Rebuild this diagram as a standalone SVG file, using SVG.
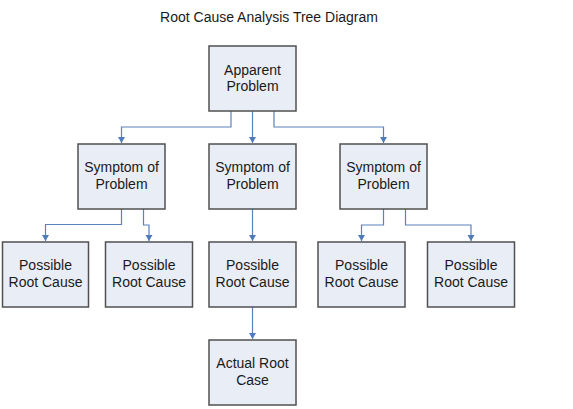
<svg xmlns="http://www.w3.org/2000/svg" width="573" height="409" viewBox="0 0 573 409">
<defs>
<marker id="ah" markerWidth="8" markerHeight="7" refX="4" refY="6" orient="0" markerUnits="userSpaceOnUse" viewBox="0 0 8 7">
<path d="M0.5,0 L7.5,0 L4,6 Z" fill="#4F7BBA"/>
</marker>
</defs>
<style>
.box{fill:#E9EDF6;stroke:#505050;stroke-width:1.5}
.t{font-family:"Liberation Sans",Arial,sans-serif;font-size:14px;fill:#1a1a1a;text-anchor:middle}
.title{font-family:"Liberation Sans",Arial,sans-serif;font-size:14px;fill:#1a1a1a;text-anchor:middle}
.c{fill:none;stroke:#5A82BD;stroke-width:1.2;marker-end:url(#ah)}
</style>
<rect width="573" height="409" fill="#ffffff"/>
<text class="title" x="269" y="22">Root Cause Analysis Tree Diagram</text>
<g id="connectors">
<path class="c" d="M231,111 V127 H121.5 V143"/>
<path class="c" d="M252.5,111 V143"/>
<path class="c" d="M274,111 V127 H383.5 V143"/>
<path class="c" d="M121.5,209 V224.5 H45.5 V241"/>
<path class="c" d="M143.5,209 V225 H149 V241"/>
<path class="c" d="M252.5,209 V241"/>
<path class="c" d="M383.5,209 V225 H361.5 V241"/>
<path class="c" d="M405.5,209 V225 H471 V241"/>
<path class="c" d="M252.5,307 V339"/>
</g>
<g id="apparent">
<rect class="box" x="209" y="46" width="87" height="65"/>
<text class="t" x="252.5" y="75">Apparent</text>
<text class="t" x="252.5" y="91">Problem</text>
</g>
<g id="symptom1">
<rect class="box" x="78" y="144" width="87" height="65"/>
<text class="t" x="121.5" y="172">Symptom of</text>
<text class="t" x="121.5" y="189">Problem</text>
</g>
<g id="symptom2">
<rect class="box" x="209" y="144" width="87" height="65"/>
<text class="t" x="252.5" y="172">Symptom of</text>
<text class="t" x="252.5" y="189">Problem</text>
</g>
<g id="symptom3">
<rect class="box" x="340" y="144" width="87" height="65"/>
<text class="t" x="383.5" y="172">Symptom of</text>
<text class="t" x="383.5" y="189">Problem</text>
</g>
<g id="cause1">
<rect class="box" x="2.5" y="242" width="86" height="65"/>
<text class="t" x="45.5" y="270">Possible</text>
<text class="t" x="45.5" y="287">Root Cause</text>
</g>
<g id="cause2">
<rect class="box" x="105.5" y="242" width="87" height="65"/>
<text class="t" x="149" y="270">Possible</text>
<text class="t" x="149" y="287">Root Cause</text>
</g>
<g id="cause3">
<rect class="box" x="209" y="242" width="87" height="65"/>
<text class="t" x="252.5" y="270">Possible</text>
<text class="t" x="252.5" y="287">Root Cause</text>
</g>
<g id="cause4">
<rect class="box" x="318" y="242" width="87" height="65"/>
<text class="t" x="361.5" y="270">Possible</text>
<text class="t" x="361.5" y="287">Root Cause</text>
</g>
<g id="cause5">
<rect class="box" x="427.5" y="242" width="87" height="65"/>
<text class="t" x="471" y="270">Possible</text>
<text class="t" x="471" y="287">Root Cause</text>
</g>
<g id="actual">
<rect class="box" x="209" y="340" width="87" height="65"/>
<text class="t" x="252.5" y="368">Actual Root</text>
<text class="t" x="252.5" y="385">Case</text>
</g>
</svg>
